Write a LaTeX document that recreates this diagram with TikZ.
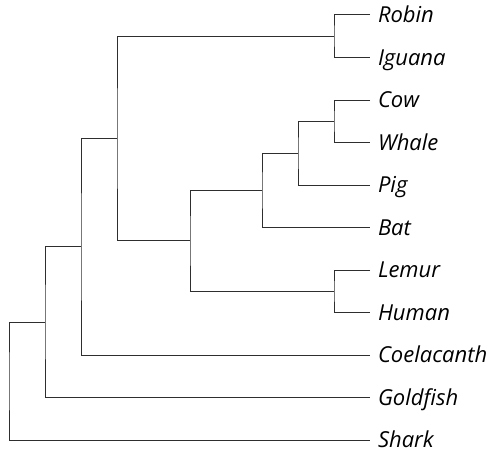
\documentclass[tikz,border=0pt]{standalone}
\usepackage{fontspec}
\setmainfont{Open Sans}
\begin{document}
\begin{tikzpicture}[x=1pt,y=-1pt,
  branch/.style={draw=black!82, line width=1pt},
  taxon/.style={anchor=west, inner xsep=0pt, inner ysep=0pt, outer sep=0pt,
    text height=15.7pt, text depth=0pt, font=\fontsize{22}{22}\selectfont\itshape}]
\useasboundingbox (0,0) rectangle (490,452);

% leaf tips and names
\foreach \n/\t [count=\i from 0] in {robin/Robin,iguana/Iguana,cow/Cow,whale/Whale,pig/Pig,bat/Bat,lemur/Lemur,human/Human,coel/Coelacanth,gold/Goldfish,shark/Shark}{
  \coordinate (\n) at (370, 15+42.5*\i);
  \node[taxon] (\n-l) at (378, 15+42.5*\i) {\t};
}

% internal nodes (vertical bars at their x, midpoints at their y)
\coordinate (ri)   at (334, 36.25);
\coordinate (cw)   at (334, 121.25);
\coordinate (cwp)  at (298, 153.1);
\coordinate (lau)  at (262, 190.3);
\coordinate (pri)  at (334, 291.25);
\coordinate (mam)  at (190, 240.8);
\coordinate (amn)  at (117, 138.5);
\coordinate (sarc) at (81, 246.8);
\coordinate (ost)  at (45, 322.1);
\coordinate (root) at (9, 381);

% branches
\draw[branch] (robin) -| (ri) |- (iguana);
\draw[branch] (cow) -| (cw) |- (whale);
\draw[branch] (cw) -| (cwp) |- (pig);
\draw[branch] (cwp) -| (lau) |- (bat);
\draw[branch] (lemur) -| (pri) |- (human);
\draw[branch] (lau) -| (mam) |- (pri);
\draw[branch] (ri) -| (amn) |- (mam);
\draw[branch] (amn) -| (sarc) |- (coel);
\draw[branch] (sarc) -| (ost) |- (gold);
\draw[branch] (ost) -| (root) |- (shark);
\end{tikzpicture}
\end{document}
